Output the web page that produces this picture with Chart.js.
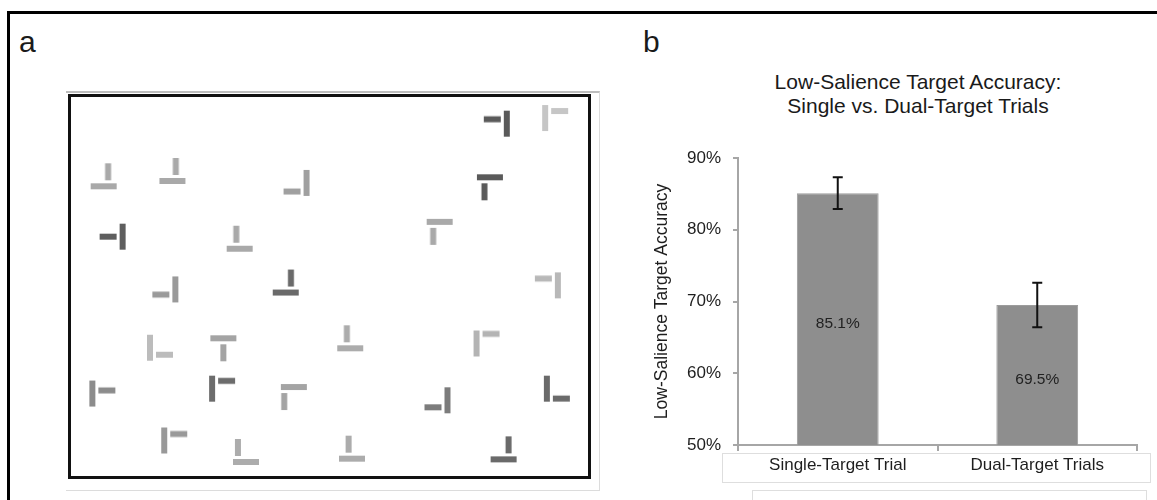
<!DOCTYPE html>
<html>
<head>
<meta charset="utf-8">
<script src="https://cdn.jsdelivr.net/npm/chart.js@4/dist/chart.umd.min.js"></script>
<style>
  body { margin: 0; background: #fff; }
  #figura { position: relative; width: 1157px; height: 500px; overflow: hidden; background: #fff;
            font-family: "Liberation Sans", Arial, sans-serif; color: #1a1a1a; }
  .moldura-fig { position: absolute; left: 7px; top: 11px; width: 1300px; height: 600px;
                 border-left: 3px solid #000; border-top: 3px solid #000; }
  .letra { position: absolute; font-size: 30px; line-height: 30px; }
  .moldura-a { position: absolute; left: 66px; top: 91px; width: 533px; height: 397px;
               border-top: 2px solid #bdbdbd; border-right: 1px solid #dcdcdc; border-bottom: 1px solid #dcdcdc; }
  .caixa-a { position: absolute; left: 68px; top: 94px; width: 517px; height: 379px; border: 3px solid #111; }
  .caixa-a canvas { display: block; }
  .titulo-b { position: absolute; left: 718px; top: 70px; width: 400px; text-align: center;
              font-size: 21px; line-height: 24px; color: #1a1a1a; }
  .caixa-rotulos { position: absolute; left: 722px; top: 453px; width: 427px; height: 28px; border: 1px solid #dedede; }
  .caixa-baixo { position: absolute; left: 752px; top: 490px; width: 393px; height: 40px; border: 1px solid #dedede; }
  #graficoB { position: absolute; left: 630px; top: 130px; }
</style>
</head>
<body>
<div id="figura">
  <div class="moldura-fig"></div>
  <div class="letra" style="left:19px; top:27px;">a</div>
  <div class="letra" style="left:643px; top:27px;">b</div>

  <div class="moldura-a"></div>
  <div class="caixa-a"><canvas id="graficoA" width="517" height="379"></canvas></div>

  <div class="caixa-rotulos"></div>
  <div class="caixa-baixo"></div>
  <div class="titulo-b">Low-Salience Target Accuracy:<br>Single vs. Dual-Target Trials</div>
  <canvas id="graficoB" width="527" height="370"></canvas>
</div>

<script>
Chart.defaults.font.family = '"Liberation Sans", Arial, sans-serif';
Chart.defaults.color = '#1e1e1e';

// ---- painel a: tela de busca (centro da barra longa, em pixels da figura) ----
const estimX = [98.3, 168.7, 306, 117.7, 237.5, 511, 550.3, 493.7, 442.3,
                171.7, 284.7, 145.7, 220.8, 86.7, 209.3, 293, 160.3, 244,
                563.3, 350.7, 480, 552, 450.3, 352.5, 507.7];
const estimY = [183, 177.5, 179.5, 235, 247.5, 118.3, 112.5, 173.7, 219.7,
                289.5, 292.7, 349.7, 340, 397, 392, 390.3, 445.5, 467.7,
                285.3, 350.3, 345.3, 392, 404, 464.3, 465];
// orientação da barra longa: v = vertical, h = horizontal
const estimBarra = ['h', 'h', 'v', 'v', 'h', 'v', 'v', 'h', 'h',
                    'v', 'h', 'v', 'h', 'v', 'v', 'h', 'v', 'h',
                    'v', 'h', 'v', 'v', 'v', 'h', 'h'];
// lado da barra curta: esq, dir, cima, baixo
const estimLado = ['cima', 'cima', 'esq', 'esq', 'cima', 'esq', 'dir', 'baixo', 'baixo',
                   'esq', 'cima', 'dir', 'baixo', 'dir', 'dir', 'baixo', 'dir', 'cima',
                   'esq', 'cima', 'dir', 'dir', 'esq', 'cima', 'cima'];
// posição da barra curta ao longo da barra longa (0 = início, 1 = fim)
const estimPos = [0.67, 0.63, 0.83, 0.5, 0.37, 0.33, 0.23, 0.29, 0.25,
                  0.7, 0.7, 0.77, 0.5, 0.38, 0.2, 0.13, 0.25, 0.19,
                  0.24, 0.37, 0.13, 0.88, 0.77, 0.37, 0.69];
// tom de cinza (saliência)
const estimCinza = [169, 169, 160, 94, 169, 90, 198, 90, 169,
                    154, 106, 188, 164, 140, 108, 164, 153, 172,
                    184, 172, 180, 106, 124, 172, 106];

// ---- painel b: barras ----
const categorias = ['Single-Target Trial', 'Dual-Target Trials'];
const acuracia = [85.1, 69.5];
const erroPadrao = [2.2, 3.1];
const rotulosBarras = ['85.1%', '69.5%'];

// Desenha um estímulo (T ou L) num canvas pequeno
function criaEstimulo(barra, lado, pos, cinza) {
    const c = document.createElement('canvas');
    c.width = 56;
    c.height = 56;
    const g = c.getContext('2d');
    g.fillStyle = `rgb(${cinza},${cinza},${cinza})`;
    g.translate(28, 28);
    const longa = 26, curta = 17, esp = 6, folga = 3;
    const p = -longa / 2 + pos * longa;
    if (barra === 'v') {
        g.fillRect(-esp / 2, -longa / 2, esp, longa);
        const x0 = lado === 'esq' ? -esp / 2 - folga - curta : esp / 2 + folga;
        g.fillRect(x0, p - esp / 2, curta, esp);
    } else {
        g.fillRect(-longa / 2, -esp / 2, longa, esp);
        const y0 = lado === 'cima' ? -esp / 2 - folga - curta : esp / 2 + folga;
        g.fillRect(p - esp / 2, y0, esp, curta);
    }
    return c;
}

const pontos = estimX.map((x, i) => ({ x: x, y: estimY[i] }));
const imagens = estimX.map((x, i) => criaEstimulo(estimBarra[i], estimLado[i], estimPos[i], estimCinza[i]));

new Chart(document.getElementById('graficoA'), {
    type: 'scatter',
    data: {
        datasets: [{
            data: pontos,
            pointStyle: imagens,
            pointRadius: 5
        }]
    },
    options: {
        responsive: false,
        animation: false,
        events: [],
        layout: { padding: 0 },
        plugins: { legend: { display: false }, tooltip: { enabled: false } },
        scales: {
            x: { type: 'linear', display: false, min: 71, max: 588 },
            y: { type: 'linear', display: false, min: 97, max: 476, reverse: true }
        }
    }
});

// Barras de erro e rótulos dentro das barras
const barrasErro = {
    id: 'barrasErro',
    afterDatasetsDraw(chart) {
        const ctx = chart.ctx;
        const escalaY = chart.scales.y;
        const baseVisivel = chart.chartArea.bottom;
        chart.getDatasetMeta(0).data.forEach((barra, i) => {
            const topo = escalaY.getPixelForValue(acuracia[i] + erroPadrao[i]);
            const fundo = escalaY.getPixelForValue(acuracia[i] - erroPadrao[i]);
            ctx.save();
            ctx.strokeStyle = '#111';
            ctx.lineWidth = 2;
            ctx.beginPath();
            ctx.moveTo(barra.x, topo);
            ctx.lineTo(barra.x, fundo);
            ctx.moveTo(barra.x - 5, topo);
            ctx.lineTo(barra.x + 5, topo);
            ctx.moveTo(barra.x - 5, fundo);
            ctx.lineTo(barra.x + 5, fundo);
            ctx.stroke();

            // rótulo no meio da parte visível da barra
            const base = Math.min(barra.base, baseVisivel);
            ctx.fillStyle = '#222';
            ctx.font = '15.5px "Liberation Sans", Arial, sans-serif';
            ctx.textAlign = 'center';
            ctx.textBaseline = 'middle';
            ctx.fillText(rotulosBarras[i], barra.x, (barra.y + base) / 2 + 5);
            ctx.restore();
        });
    }
};

const cinzaEixo = '#a6a6a6';

new Chart(document.getElementById('graficoB'), {
    type: 'bar',
    data: {
        labels: categorias,
        datasets: [{
            data: acuracia,
            backgroundColor: '#8e8e8e',
            borderColor: '#9c9c9c',
            borderWidth: 1,
            barPercentage: 0.41,
            categoryPercentage: 1
        }]
    },
    options: {
        responsive: false,
        animation: false,
        events: [],
        layout: { padding: { top: 28, right: 20, left: 0, bottom: 0 } },
        plugins: { legend: { display: false }, tooltip: { enabled: false } },
        scales: {
            x: {
                grid: { drawOnChartArea: false, offset: true, tickLength: 6, color: cinzaEixo, lineWidth: 2 },
                border: { color: cinzaEixo, width: 2 },
                ticks: { font: { size: 17 }, color: '#1e1e1e', padding: 4 },
                afterFit(escala) { escala.height = 55; }
            },
            y: {
                min: 50,
                max: 90,
                ticks: { stepSize: 10, callback: v => v + '%', font: { size: 17 }, color: '#1e1e1e', padding: 12 },
                grid: { drawOnChartArea: false, tickLength: 5, color: cinzaEixo, lineWidth: 2 },
                border: { color: cinzaEixo, width: 2 },
                title: {
                    display: true,
                    text: 'Low-Salience Target Accuracy',
                    font: { size: 17.5 },
                    color: '#1e1e1e',
                    padding: { top: 22, bottom: 0 }
                },
                afterFit(escala) { escala.width = 108; }
            }
        }
    },
    plugins: [barrasErro]
});
</script>
</body>
</html>
